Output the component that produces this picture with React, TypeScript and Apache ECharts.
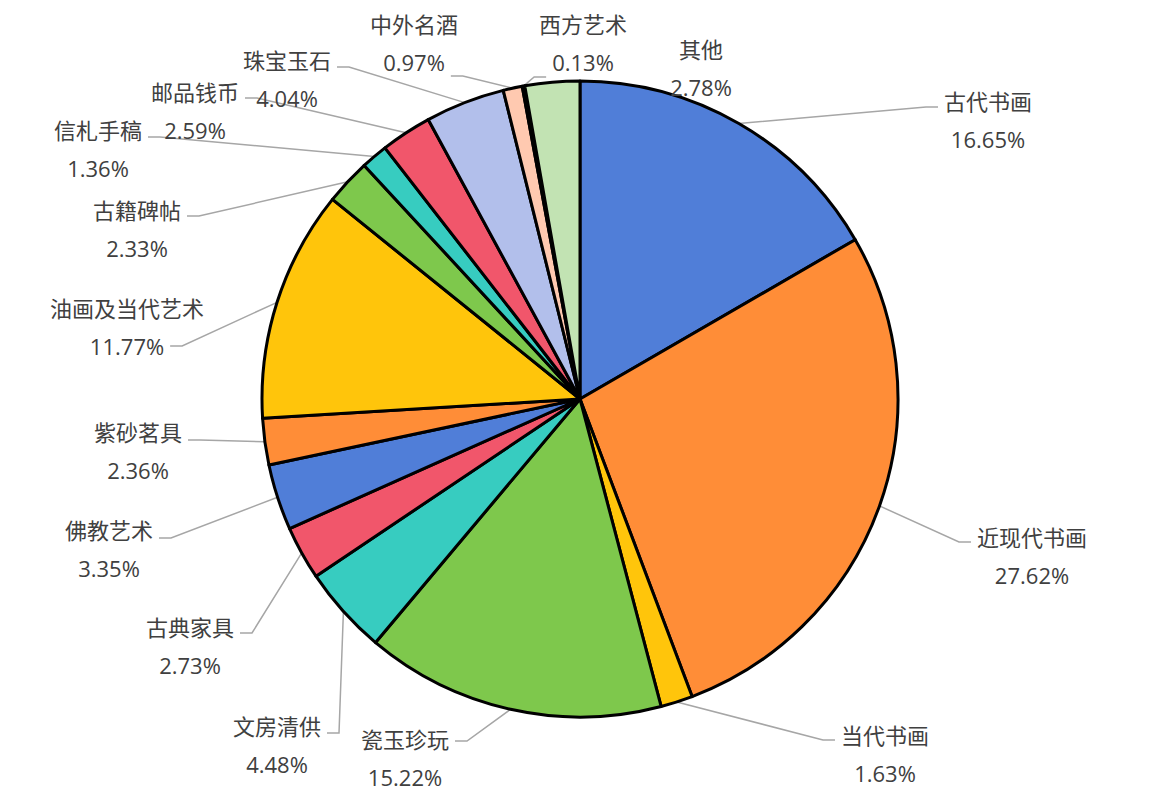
import React, { useEffect, useRef } from "react";
import * as echarts from "echarts";

// 拍卖成交额占比（%）
const categories = [
  "古代书画", "近现代书画", "当代书画", "瓷玉珍玩", "文房清供", "古典家具",
  "佛教艺术", "紫砂茗具", "油画及当代艺术", "古籍碑帖", "信札手稿",
  "邮品钱币", "珠宝玉石", "中外名酒", "西方艺术", "其他",
];
const shares = [
  16.65, 27.62, 1.63, 15.22, 4.48, 2.73, 3.35, 2.36, 11.77, 2.33, 1.36,
  2.59, 4.04, 0.97, 0.13, 2.78,
];
const palette = [
  "#507ed8", "#ff8d37", "#ffc50b", "#7ec84c", "#37ccc0", "#f1566b",
  "#507ed8", "#ff8d37", "#ffc50b", "#7ec84c", "#37ccc0", "#f1566b",
  "#b2bfeb", "#ffc9b0", "#ffe79c", "#c2e3b3",
];

// 标签摆放位置（文字块中心）以及引导线接在第几行（相对中心的 y 偏移，null 为不画线）
const labelSpots: [number, number, number | null][] = [
  [988, 120, -13], [1032, 556, -14], [885, 754, -14], [405, 758, -17],
  [277, 745, -12], [190, 646, -13], [109, 549, -11], [138, 451, -11],
  [127, 327, 19], [137, 229, -13], [98, 149, -12], [195, 111, -13],
  [287, 79, -12], [414, 43, 33], [583, 43, 34], [701, 68, null],
];

const FONT = '"Open Sans", "Noto Sans CJK SC", sans-serif';
const FONT_SIZE = 22;
const LINE_H = 38;

const App = () => {
  const chartRef = useRef<HTMLDivElement>(null);

  useEffect(() => {
    const myChart = echarts.init(chartRef.current!, null, { renderer: "svg" });
    const ctx = document.createElement("canvas").getContext("2d")!;
    ctx.font = `${FONT_SIZE}px ${FONT}`;
    const pct = (v: number) => `${v.toFixed(2)}%`;

    const option = {
      animation: false,
      color: palette,
      series: [
        {
          type: "pie",
          center: [580, 399],
          radius: 318,
          startAngle: 90,
          clockwise: true,
          avoidLabelOverlap: false,
          data: categories.map((name, i) => ({
            name,
            value: shares[i],
            labelLine: { show: labelSpots[i][2] !== null },
          })),
          itemStyle: {
            borderColor: "#000",
            borderWidth: 3,
          },
          label: {
            show: true,
            position: "outside",
            formatter: (p: any) => `${p.name}\n${pct(p.value)}`,
            fontFamily: FONT,
            fontSize: FONT_SIZE,
            lineHeight: LINE_H,
            color: "#404040",
          },
          labelLine: {
            show: true,
            length: 30,
            length2: 20,
            lineStyle: { color: "#a6a6a6", width: 1.5 },
          },
          labelLayout: (params: any) => {
            const i = params.dataIndex;
            const [cx, cy, dy] = labelSpots[i];
            const out: any = { x: cx, y: cy, align: "center", verticalAlign: "middle" };
            if (dy !== null && params.labelLinePoints) {
              const anchor = params.labelLinePoints[0];
              const txt = dy < 0 ? categories[i] : pct(shares[i]);
              const w = ctx.measureText(txt).width;
              const side = anchor[0] > cx ? 1 : -1;
              const ex = cx + side * (w / 2 + 6);
              const ey = cy + dy;
              out.labelLinePoints = [anchor, [ex + side * 12, ey], [ex, ey]];
            }
            return out;
          },
        },
      ],
    };
    myChart.setOption(option);

    return () => {
      myChart.dispose();
    };
  }, []);

  return (
    <div
      ref={chartRef}
      style={{ position: "fixed", left: 0, top: 0, width: 1157, height: 800, background: "#fff" }}
    ></div>
  );
};
export default App;
